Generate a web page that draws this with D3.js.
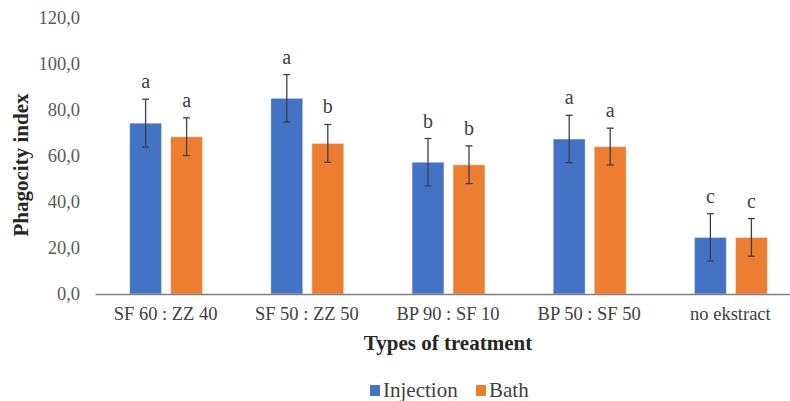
<!DOCTYPE html>
<html><head><meta charset="utf-8">
<script src="https://cdn.jsdelivr.net/npm/d3@7"></script>
<style>body{margin:0;background:#fff}svg{display:block}</style>
</head><body>
<script>
const categories = ["SF 60 : ZZ 40","SF 50 : ZZ 50","BP 90 : SF 10","BP 50 : SF 50","no ekstract"];
const seriesNames = ["Injection","Bath"];
const injection = [74.3, 85.1, 57.3, 67.4, 24.6];
const bath = [68.4, 65.5, 56.2, 64.1, 24.6];
const injectionErr = [10.4, 10.3, 10.3, 10.3, 10.3];
const bathErr = [8.2, 8.2, 8.2, 8.0, 8.2];
const injectionLetters = ["a","a","b","a","c"];
const bathLetters = ["a","b","b","a","c"];
const yTicks = [0,20,40,60,80,100,120];
const colors = ["#4472C4","#ED7D31"];

const W=790,H=401;
const svg=d3.select("body").append("svg").attr("width",W).attr("height",H);
const x=d3.scaleBand().domain(categories).range([95,801]).paddingInner(0).paddingOuter(0);
const x1=d3.scaleBand().domain(seriesNames).range([x.bandwidth()/2-36, x.bandwidth()/2+37]).paddingInner(0.22);
const y=d3.scaleLinear().domain([0,120]).range([294,18]);
const font="'Liberation Serif','Times New Roman',serif";

// y tick labels
const yAxis=svg.append("g").attr("transform","translate(95,0)")
  .call(d3.axisLeft(y).tickValues(yTicks).tickFormat(d=>d3.format(".1f")(d).replace(".",",")).tickSize(0).tickPadding(15));
yAxis.select(".domain").remove();
yAxis.selectAll("text").attr("font-family",font).attr("font-size",18.5).attr("fill","#595959");

const series=[
 {name:"Injection",vals:injection,err:injectionErr,let:injectionLetters,color:colors[0]},
 {name:"Bath",vals:bath,err:bathErr,let:bathLetters,color:colors[1]}
];
series.forEach(s=>{
  const g=svg.append("g");
  categories.forEach((c,i)=>{
    const bx=x(c)+x1(s.name), bw=x1.bandwidth(), cx=bx+bw/2;
    g.append("rect").attr("x",bx).attr("y",y(s.vals[i])).attr("width",bw).attr("height",y(0)-y(s.vals[i]))
      .attr("fill",s.color).attr("stroke","#ffffff").attr("stroke-opacity",0.5).attr("stroke-width",1);
    const t=y(s.vals[i]+s.err[i]), b=y(s.vals[i]-s.err[i]);
    g.append("line").attr("x1",cx).attr("x2",cx).attr("y1",t).attr("y2",b).attr("stroke","#404040").attr("stroke-width",1.3);
    g.append("line").attr("x1",cx-3.5).attr("x2",cx+3.5).attr("y1",t).attr("y2",t).attr("stroke","#404040").attr("stroke-width",1.3);
    g.append("line").attr("x1",cx-3.5).attr("x2",cx+3.5).attr("y1",b).attr("y2",b).attr("stroke","#404040").attr("stroke-width",1.3);
    g.append("text").attr("x",cx).attr("y",t-11).attr("text-anchor","middle").attr("font-family",font)
      .attr("font-size",20).attr("fill","#404040").text(s.let[i]);
  });
});

// x axis
const xAxis=svg.append("g").attr("transform","translate(0,294)")
  .call(d3.axisBottom(x).tickSize(0).tickPadding(13));
xAxis.select(".domain").attr("stroke","#7f7f7f").attr("stroke-width",1.3);
xAxis.selectAll("text").attr("font-family",font).attr("font-size",18.5).attr("fill","#404040");

svg.append("text").attr("x",448).attr("y",350).attr("text-anchor","middle").attr("font-family",font)
  .attr("font-size",21).attr("font-weight","bold").attr("fill","#262626").text("Types of treatment");
svg.append("text").attr("transform","translate(28,165) rotate(-90)").attr("text-anchor","middle").attr("font-family",font)
  .attr("font-size",21).attr("font-weight","bold").attr("fill","#262626").text("Phagocity index");

// legend
const leg=[{n:"Injection",c:colors[0],x:370},{n:"Bath",c:colors[1],x:476}];
leg.forEach(l=>{
  svg.append("rect").attr("x",l.x).attr("y",385).attr("width",10).attr("height",11).attr("fill",l.c);
  svg.append("text").attr("x",l.x+13).attr("y",397).attr("font-family",font).attr("font-size",21).attr("fill","#404040").text(l.n);
});
</script>
</body></html>
